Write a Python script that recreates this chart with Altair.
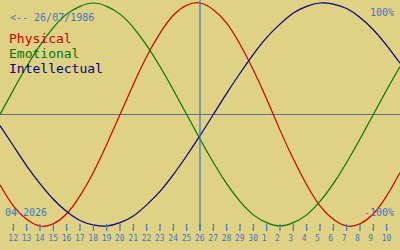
import altair as alt
import pandas as pd

# Day index: April days as-is, May days as 30 + day
days = list(range(11, 42))
physical = [-0.63, -0.82, -0.94, -1.00, -0.98, -0.89, -0.73, -0.52, -0.27, 0.00,
            0.27, 0.52, 0.73, 0.89, 0.98, 1.00, 0.94, 0.82, 0.63, 0.40,
            0.14, -0.14, -0.40, -0.63, -0.82, -0.94, -1.00, -0.98, -0.89, -0.73, -0.52]
emotional = [0.00, 0.22, 0.43, 0.62, 0.78, 0.90, 0.97, 1.00, 0.97, 0.90,
             0.78, 0.62, 0.43, 0.22, 0.00, -0.22, -0.43, -0.62, -0.78, -0.90,
             -0.97, -1.00, -0.97, -0.90, -0.78, -0.62, -0.43, -0.22, 0.00, 0.22, 0.43]
intellectual = [-0.10, -0.28, -0.46, -0.62, -0.76, -0.87, -0.95, -0.99, -1.00, -0.97,
                -0.91, -0.81, -0.69, -0.54, -0.37, -0.19, 0.00, 0.19, 0.37, 0.54,
                0.69, 0.81, 0.91, 0.97, 1.00, 0.99, 0.95, 0.87, 0.76, 0.62, 0.46]

tick_days = list(range(12, 41))
tick_labels = ["12", "13", "14", "15", "16", "17", "18", "19", "20", "21", "22",
               "23", "24", "25", "26", "27", "28", "29", "30", "1", "2", "3",
               "4", "5", "6", "7", "8", "9", "10"]
center_day = 26

series_names = ["Physical", "Emotional", "Intellectual"]
series_colors = ["#cc0000", "#007800", "#000080"]
birth_label = "<-- 26/07/1986"
month_label = "04-2026"
top_label = "100%"
bottom_label = "-100%"

BG = "#e0d284"
BLUE = "#3a76c6"
FONT = "DejaVu Sans Mono"

rows = []
for name, vals in zip(series_names, [physical, emotional, intellectual]):
    for d, v in zip(days, vals):
        rows.append({"day": d, "value": v, "series": name})
df = pd.DataFrame(rows)

xs = alt.Scale(domain=[11, 41], nice=False, zero=False)
ys = alt.Scale(domain=[-1.2152, 1.0269], nice=False, zero=False)

base = alt.Chart(df)

zero_line = alt.Chart(pd.DataFrame({"v": [0]})).mark_rule(
    color="#5a7090", strokeWidth=1
).encode(y=alt.Y("v:Q", scale=ys, axis=None))

lines = base.mark_line(interpolate="natural", strokeWidth=1.2).encode(
    x=alt.X("day:Q", scale=xs, axis=None),
    y=alt.Y("value:Q", scale=ys, axis=None),
    color=alt.Color("series:N", scale=alt.Scale(domain=series_names, range=series_colors), legend=None),
)

vline = alt.Chart(pd.DataFrame({"d": [center_day]})).mark_rule(
    color=BLUE, strokeWidth=1.2
).encode(x=alt.X("d:Q", scale=xs, axis=None), y=alt.value(0), y2=alt.value(231))

tdf = pd.DataFrame({"d": tick_days, "lab": tick_labels})
ticks = alt.Chart(tdf).mark_rule(color=BLUE, strokeWidth=1.2).encode(
    x=alt.X("d:Q", scale=xs, axis=None), y=alt.value(224), y2=alt.value(231)
)
tick_text = alt.Chart(tdf).mark_text(
    font=FONT, fontSize=8, color=BLUE, align="left", dx=-5, baseline="alphabetic"
).encode(x=alt.X("d:Q", scale=xs, axis=None), y=alt.value(241), text="lab:N")

legend_df = pd.DataFrame({"name": series_names, "yy": [43, 58, 73]})
legend_text = alt.Chart(legend_df).mark_text(
    font=FONT, fontSize=13, align="left", baseline="alphabetic"
).encode(
    x=alt.value(9),
    y=alt.Y("yy:Q", scale=None),
    text="name:N",
    color=alt.Color("name:N", scale=alt.Scale(domain=series_names, range=series_colors), legend=None),
)

def label(txt, x, y, align):
    return alt.Chart(pd.DataFrame({"t": [txt]})).mark_text(
        font=FONT, fontSize=10, color=BLUE, align=align, baseline="alphabetic"
    ).encode(x=alt.value(x), y=alt.value(y), text="t:N")

chart = alt.layer(
    zero_line,
    lines,
    vline,
    ticks,
    tick_text,
    legend_text,
    label(birth_label, 10, 21, "left"),
    label(top_label, 394, 16, "right"),
    label(bottom_label, 394, 216, "right"),
    label(month_label, 5, 216, "left"),
).resolve_scale(color="independent").properties(
    width=400, height=250, background=BG, padding=0,
    autosize=alt.AutoSizeParams(type="none"),
).configure_view(stroke=None, fill=BG)

chart.save("out.html", embed_options={"renderer": "svg", "actions": False})
